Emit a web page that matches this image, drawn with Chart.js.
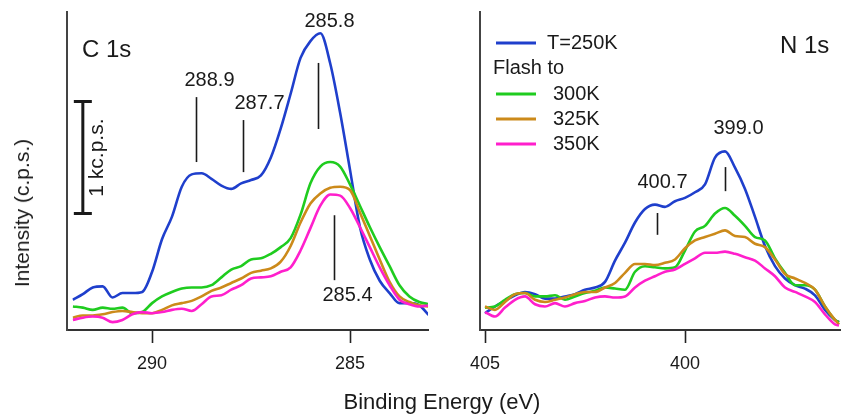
<!DOCTYPE html>
<html>
<head>
<meta charset="utf-8">
<script src="https://cdn.jsdelivr.net/npm/chart.js@4"></script>
<style>
  body { margin: 0; background: #fff; width: 841px; height: 414px; position: relative; overflow: hidden;
         font-family: "Liberation Sans", Arial, sans-serif; color: #1a1a1a; }
  canvas { position: absolute; top: 0; }
  #cC { left: 0; }
  #cN { left: 441px; }
  .title { position: absolute; white-space: nowrap; }
  #xt { left: 442px; top: 402px; font-size: 22px; transform: translate(-50%, -50%); }
  #yt { left: 22px; top: 213px; font-size: 21px; transform: translate(-50%, -50%) rotate(-90deg); }
</style>
</head>
<body>
<canvas id="cC" width="441" height="414"></canvas>
<canvas id="cN" width="400" height="414"></canvas>
<div class="title" id="xt">Binding Energy (eV)</div>
<div class="title" id="yt">Intensity (c.p.s.)</div>
<script>
// binding energies (eV) and intensities (c.p.s., arbitrary offset)
const energyC = [292, 291.75, 291.5, 291.25, 291, 290.75, 290.5, 290.25, 290, 289.75, 289.5, 289.25, 289,
  288.75, 288.5, 288.25, 288, 287.75, 287.5, 287.25, 287, 286.75, 286.5, 286.25, 286, 285.75, 285.5, 285.25,
  285, 284.75, 284.5, 284.25, 284, 283.75, 283.5, 283.25, 283];
const c250 = [270, 320, 380, 390, 290, 330, 330, 340, 520, 810, 1010, 1280, 1390, 1400, 1350, 1290, 1260, 1310,
  1340, 1380, 1540, 1800, 2110, 2430, 2580, 2650, 2380, 1940, 1430, 920, 630, 440, 330, 240, 240, 220, 130];
const c300 = [210, 200, 180, 200, 190, 200, 150, 160, 240, 300, 340, 370, 380, 380, 400, 470, 540, 570, 630, 640,
  680, 740, 820, 1030, 1310, 1460, 1500, 1460, 1300, 1110, 920, 740, 570, 400, 300, 250, 230];
const c325 = [110, 130, 130, 140, 160, 170, 160, 150, 150, 180, 220, 240, 260, 300, 350, 380, 420, 460, 510, 530,
  550, 610, 750, 960, 1130, 1220, 1270, 1280, 1250, 1050, 840, 630, 430, 300, 250, 220, 210];
const c350 = [90, 110, 120, 110, 70, 90, 140, 160, 150, 160, 180, 190, 170, 230, 300, 310, 360, 400, 460, 470,
  480, 520, 560, 710, 910, 1110, 1210, 1200, 1090, 920, 740, 560, 400, 270, 230, 210, 220];

const energyN = [405, 404.75, 404.5, 404.25, 404, 403.75, 403.5, 403.25, 403, 402.75, 402.5, 402.25, 402,
  401.75, 401.5, 401.25, 401, 400.75, 400.5, 400.25, 400, 399.75, 399.5, 399.25, 399, 398.75, 398.5, 398.25,
  398, 397.75, 397.5, 397.25, 397, 396.75, 396.5, 396.25, 396.15];
const n250 = [150, 210, 260, 310, 340, 320, 280, 280, 300, 320, 360, 380, 430, 620, 780, 960, 1080, 1120, 1100,
  1150, 1180, 1230, 1300, 1540, 1595, 1450, 1260, 1010, 750, 570, 460, 400, 370, 310, 180, 90, 70];
const n300 = [200, 210, 270, 320, 330, 300, 300, 310, 270, 300, 330, 350, 380, 370, 360, 520, 570, 560, 550, 560,
  710, 880, 930, 1040, 1090, 1020, 930, 830, 800, 640, 510, 400, 400, 360, 210, 90, 70];
const n325 = [210, 180, 250, 320, 330, 270, 250, 270, 290, 320, 340, 340, 380, 420, 510, 590, 590, 580, 600, 630,
  730, 800, 830, 860, 890, 840, 830, 770, 740, 630, 500, 460, 420, 360, 210, 90, 50];
const n350 = [160, 120, 200, 270, 300, 230, 210, 240, 210, 240, 260, 290, 300, 290, 300, 380, 440, 480, 520, 540,
  590, 640, 690, 690, 700, 680, 650, 620, 550, 480, 380, 340, 300, 250, 140, 50, 40];

const seriesLabels = ["T=250K", "300K", "325K", "350K"];
const colors = ["#1f3fcc", "#1fcc1f", "#cc8a1a", "#ff1fcc"];
const ticksC = [290, 285];
const ticksN = [405, 400];
const peaksC = [288.9, 287.7, 285.8, 285.4];
const peaksN = [400.7, 399.0];

const FONT = '"Liberation Sans", Arial, sans-serif';
Chart.defaults.font.family = FONT;
Chart.defaults.color = "#1a1a1a";

function lines(energy, sets) {
  return sets.map((vals, i) => ({
    label: seriesLabels[i],
    data: vals.map((v, j) => ({ x: energy[j], y: v })),
    borderColor: colors[i],
    borderWidth: 2.6,
    pointRadius: 0,
    cubicInterpolationMode: "monotone",
    fill: false
  })).reverse();
}

// text, tick marks, scale bar and legend drawn on top of the curves
const decor = {
  id: "decor",
  afterDatasetsDraw(chart, args, o) {
    const { ctx, chartArea: a, scales: { x, y } } = chart;
    ctx.save();
    ctx.fillStyle = ctx.strokeStyle = "#1a1a1a";
    ctx.textBaseline = "middle";
    ctx.textAlign = "left";
    ctx.font = "24px " + FONT;
    ctx.fillText(o.name, a.left + o.nameAt[0], a.top + o.nameAt[1]);

    ctx.font = "20px " + FONT;
    ctx.textAlign = "center";
    ctx.lineWidth = 1.6;
    o.marks.forEach((m, i) => {
      const px = Math.round(x.getPixelForValue(o.peaks[i])) + 0.5;
      const top = y.getPixelForValue(m.hi), bot = y.getPixelForValue(m.lo);
      ctx.beginPath(); ctx.moveTo(px, top); ctx.lineTo(px, bot); ctx.stroke();
      ctx.fillText(o.peaks[i].toFixed(1), px + m.dx, (m.below ? bot : top) + m.dy);
    });

    if (o.bar) {
      const b = o.bar, px = x.getPixelForValue(b.e);
      const t = y.getPixelForValue(b.hi), bt = y.getPixelForValue(b.lo);
      ctx.lineWidth = 3;
      ctx.beginPath();
      ctx.moveTo(px, t); ctx.lineTo(px, bt);
      ctx.moveTo(px - 9, t); ctx.lineTo(px + 9, t);
      ctx.moveTo(px - 9, bt); ctx.lineTo(px + 9, bt);
      ctx.stroke();
      ctx.save();
      ctx.translate(px + 14, (t + bt) / 2);
      ctx.rotate(-Math.PI / 2);
      ctx.font = "21px " + FONT;
      ctx.fillText("1 kc.p.s.", 0, 0);
      ctx.restore();
    }

    if (o.legend) {
      const L = o.legend;
      ctx.font = "20px " + FONT;
      ctx.textAlign = "left";
      ctx.lineWidth = 3;
      const ds = chart.data.datasets.slice().reverse();
      ds.forEach((d, i) => {
        const ry = a.top + L.rows[i === 0 ? 0 : i + 1];
        ctx.strokeStyle = d.borderColor;
        ctx.beginPath(); ctx.moveTo(a.left + L.line[0], ry); ctx.lineTo(a.left + L.line[1], ry); ctx.stroke();
        ctx.fillText(d.label, a.left + (i === 0 ? L.text0 : L.text), ry);
      });
      ctx.fillText("Flash to", a.left + L.head, a.top + L.rows[1]);
    }
    ctx.restore();
  }
};

function makeChart(id, energy, sets, min, max, tickVals, pad, decorOpts) {
  return new Chart(document.getElementById(id), {
    type: "line",
    data: { datasets: lines(energy, sets) },
    plugins: [decor],
    options: {
      responsive: false,
      animation: false,
      layout: { padding: pad },
      plugins: { legend: { display: false }, tooltip: { enabled: false }, decor: decorOpts },
      scales: {
        x: {
          type: "linear", reverse: true, min: min, max: max,
          afterBuildTicks: s => { s.ticks = tickVals.map(v => ({ value: v })); },
          afterFit: s => { s.height = 84; },
          grid: { drawOnChartArea: false, drawTicks: true, tickLength: 13, tickWidth: 1.6, tickColor: "#222" },
          border: { display: true, color: "#333", width: 2 },
          ticks: { font: { size: 18 }, color: "#1a1a1a", padding: 10 }
        },
        y: {
          min: 0, max: 2840,
          afterFit: s => { s.width = 0; },
          ticks: { display: false },
          grid: { display: false, drawTicks: false },
          border: { display: true, color: "#444", width: 2 }
        }
      }
    }
  });
}

makeChart("cC", energyC, [c250, c300, c325, c350], 283.03, 292.15, ticksC,
  { left: 67, right: 13, top: 12, bottom: 0 },
  {
    name: "C 1s", nameAt: [15, 38], peaks: peaksC,
    marks: [
      { lo: 1500, hi: 2080, dx: 13, dy: -17 },
      { lo: 1410, hi: 1875, dx: 16, dy: -17 },
      { lo: 1795, hi: 2385, dx: 11, dy: -41 },
      { lo: 445, hi: 1025, dx: 13, dy: 15, below: true }
    ],
    bar: { e: 291.75, lo: 1040, hi: 2040 }
  });

makeChart("cN", energyN, [n250, n300, n325, n350], 396.1, 405.125, ticksN,
  { left: 39, right: 0, top: 12, bottom: 0 },
  {
    name: "N 1s", nameAt: [300, 34], peaks: peaksN,
    marks: [
      { lo: 850, hi: 1045, dx: 5, dy: -31 },
      { lo: 1240, hi: 1455, dx: 13, dy: -39 }
    ],
    legend: { line: [16, 56], text0: 67, text: 73, head: 13, rows: [31, 56, 82, 107, 132] }
  });
</script>
</body>
</html>
